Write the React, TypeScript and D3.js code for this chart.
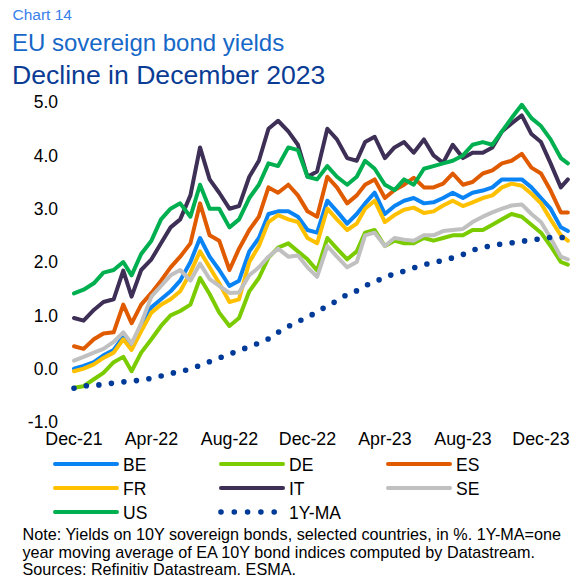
import React from 'react';
import * as d3 from 'd3';

const dates = [
  '2021-12-01','2021-12-16','2022-01-01','2022-01-16','2022-02-01','2022-02-16','2022-03-01','2022-03-16',
  '2022-04-01','2022-04-16','2022-05-01','2022-05-16','2022-06-01','2022-06-16','2022-07-01','2022-07-16',
  '2022-08-01','2022-08-16','2022-09-01','2022-09-16','2022-10-01','2022-10-16','2022-11-01','2022-11-16',
  '2022-12-01','2022-12-16','2023-01-01','2023-01-16','2023-02-01','2023-02-16','2023-03-01','2023-03-16',
  '2023-04-01','2023-04-16','2023-05-01','2023-05-16','2023-06-01','2023-06-16','2023-07-01','2023-07-16',
  '2023-08-01','2023-08-16','2023-09-01','2023-09-16','2023-10-01','2023-10-16','2023-11-01','2023-11-16',
  '2023-12-01','2023-12-16','2024-01-01','2024-01-12'
];

const BE = [0.0,0.05,0.12,0.25,0.35,0.6,0.4,0.75,1.15,1.3,1.45,1.65,2.0,2.45,2.1,1.85,1.55,1.65,2.2,2.45,2.9,2.95,2.95,2.85,2.6,2.55,3.15,2.95,2.72,2.9,3.1,3.3,2.9,3.05,3.15,3.2,3.1,3.12,3.2,3.3,3.2,3.3,3.34,3.4,3.55,3.55,3.55,3.4,3.2,3.0,2.65,2.58];
const DE = [-0.36,-0.33,-0.2,-0.08,0.12,0.22,-0.05,0.3,0.55,0.8,1.0,1.08,1.2,1.7,1.4,1.05,0.8,0.95,1.45,1.7,2.08,2.27,2.35,2.2,2.05,1.84,2.45,2.25,2.05,2.2,2.55,2.6,2.3,2.4,2.35,2.35,2.45,2.4,2.45,2.5,2.5,2.6,2.6,2.7,2.8,2.9,2.85,2.7,2.55,2.3,2.0,1.95];
const ES = [0.42,0.37,0.55,0.66,0.68,1.2,0.85,1.2,1.42,1.65,1.9,2.1,2.35,3.1,2.5,2.4,1.85,2.25,2.6,2.85,3.4,3.3,3.45,3.25,2.95,2.85,3.6,3.4,3.1,3.25,3.45,3.55,3.2,3.35,3.45,3.58,3.4,3.4,3.47,3.66,3.45,3.5,3.66,3.72,3.85,3.9,4.03,3.77,3.66,3.34,2.93,2.93];
const FR = [-0.05,0.0,0.08,0.2,0.3,0.55,0.35,0.7,1.05,1.2,1.3,1.45,1.8,2.2,1.9,1.6,1.25,1.3,2.0,2.3,2.75,2.88,2.8,2.75,2.45,2.35,3.0,2.8,2.6,2.72,3.0,3.15,2.75,2.88,2.98,3.02,2.92,2.95,3.06,3.15,3.05,3.12,3.2,3.25,3.4,3.47,3.43,3.28,3.1,2.8,2.5,2.4];
const IT = [0.95,0.9,1.1,1.25,1.3,1.84,1.35,1.85,2.05,2.35,2.65,2.8,3.25,4.15,3.55,3.3,3.0,3.05,3.6,3.9,4.5,4.65,4.45,4.2,3.6,3.7,4.5,4.3,3.95,3.9,4.25,4.35,3.95,4.15,4.25,4.05,4.3,4.0,3.86,4.2,3.95,4.05,4.05,4.15,4.45,4.6,4.75,4.4,4.25,3.85,3.4,3.55];
const SE = [0.15,0.22,0.3,0.37,0.5,0.68,0.47,0.85,1.35,1.55,1.75,1.85,1.65,1.97,1.68,1.55,1.42,1.43,1.75,1.9,2.1,2.25,2.1,2.12,1.9,1.72,2.3,2.1,1.9,2.0,2.5,2.55,2.3,2.45,2.42,2.4,2.5,2.5,2.58,2.6,2.62,2.75,2.85,2.93,3.0,3.06,3.08,2.9,2.75,2.45,2.1,2.05];
const US = [1.41,1.48,1.6,1.8,1.85,2.0,1.75,2.15,2.4,2.8,3.0,3.1,2.85,3.45,3.0,3.0,2.65,2.8,3.2,3.45,3.85,3.8,4.15,4.1,3.6,3.55,3.8,3.6,3.45,3.6,3.9,3.75,3.45,3.35,3.55,3.45,3.75,3.8,3.85,3.9,4.0,4.2,4.25,4.2,4.45,4.7,4.95,4.7,4.55,4.3,3.95,3.85];
const MA = [-0.37,-0.33,-0.31,-0.3,-0.27,-0.25,-0.23,-0.22,-0.18,-0.14,-0.09,-0.06,0.0,0.06,0.13,0.2,0.27,0.34,0.41,0.48,0.56,0.68,0.79,0.88,0.97,1.06,1.18,1.27,1.39,1.46,1.55,1.63,1.71,1.78,1.83,1.89,1.95,1.99,2.03,2.08,2.14,2.22,2.27,2.31,2.34,2.36,2.39,2.41,2.44,2.46,2.46,2.46];

const yTicks = [5, 4, 3, 2, 1, 0, -1];
const xTickDates = ['2021-12-01','2022-04-01','2022-08-01','2022-12-01','2023-04-01','2023-08-01','2023-12-01'];
const xTickLabels = ['Dec-21','Apr-22','Aug-22','Dec-22','Apr-23','Aug-23','Dec-23'];

const seriesNames = ['BE','DE','ES','FR','IT','SE','US'];
const seriesValues = [BE, DE, ES, FR, IT, SE, US];
const seriesColors = ['#0A84F5','#7ACC00','#E05A00','#FFC000','#3D2F55','#C0C0C0','#00B050'];
const maColor = '#003A99';

const noteLines = [
  'Note: Yields on 10Y sovereign bonds, selected countries, in %. 1Y-MA=one',
  'year moving average of EA 10Y bond indices computed by Datastream.',
  'Sources: Refinitiv Datastream, ESMA.'
];

const FONT = '"Liberation Sans", Arial, sans-serif';

export default function App() {
  const parse = d3.utcParse('%Y-%m-%d');
  const dts = dates.map(d => parse(d) as Date);
  const x = d3.scaleUtc()
    .domain([parse('2021-12-01') as Date, parse('2023-12-01') as Date])
    .range([74, 541]);
  const y = d3.scaleLinear().domain([-1, 5]).range([421.9, 102.1]);

  const line = d3.line<number>()
    .x((_, i) => x(dts[i]))
    .y(v => y(v));
  const maLine = d3.line<number>()
    .x((_, i) => x(dts[i]))
    .y(v => y(v))
    .curve(d3.curveMonotoneX);

  const legendItems = [
    { name: 'BE', color: seriesColors[0], col: 0, row: 0 },
    { name: 'DE', color: seriesColors[1], col: 1, row: 0 },
    { name: 'ES', color: seriesColors[2], col: 2, row: 0 },
    { name: 'FR', color: seriesColors[3], col: 0, row: 1 },
    { name: 'IT', color: seriesColors[4], col: 1, row: 1 },
    { name: 'SE', color: seriesColors[5], col: 2, row: 1 },
    { name: 'US', color: seriesColors[6], col: 0, row: 2 },
  ];
  const legCols = [55, 221, 388];
  const legRows = [464, 488, 512];

  return (
    <svg width={570} height={575} style={{ position: 'absolute', left: 0, top: 0, background: '#fff' }} fontFamily={FONT}>
      <text x={12.5} y={20} fontSize={15.5} fill="#3A80EA">Chart 14</text>
      <text x={12} y={51} fontSize={24} fill="#1668C8">EU sovereign bond yields</text>
      <text x={12} y={84} fontSize={26.6} fill="#0A3C95">Decline in December 2023</text>

      {yTicks.map(t => (
        <text key={t} x={58} y={y(t)} dy="0.36em" textAnchor="end" fontSize={17.5} fill="#000">
          {t.toFixed(1)}
        </text>
      ))}
      {xTickDates.map((d, i) => (
        <text key={d} x={x(parse(d) as Date)} y={445} textAnchor="middle" fontSize={17.8} fill="#000">
          {xTickLabels[i]}
        </text>
      ))}

      {seriesValues.map((vals, i) => (
        <path key={seriesNames[i]} d={line(vals) || ''} fill="none" stroke={seriesColors[i]}
          strokeWidth={4} strokeLinejoin="round" strokeLinecap="round" />
      ))}
      <path d={maLine(MA) || ''} fill="none" stroke={maColor} strokeWidth={5.6}
        strokeLinecap="round" strokeDasharray="0 12.6" />

      {legendItems.map(it => (
        <g key={it.name}>
          <line x1={legCols[it.col]} x2={legCols[it.col] + 62} y1={legRows[it.row]} y2={legRows[it.row]}
            stroke={it.color} strokeWidth={4} strokeLinecap="round" />
          <text x={legCols[it.col] + 68} y={legRows[it.row] + 6.5} fontSize={17.5} fill="#000">{it.name}</text>
        </g>
      ))}
      <line x1={legCols[1]} x2={legCols[1] + 54} y1={legRows[2]} y2={legRows[2]} stroke={maColor}
        strokeWidth={5.6} strokeLinecap="round" strokeDasharray="0 13.3" />
      <text x={legCols[1] + 68} y={legRows[2] + 6.5} fontSize={17.5} fill="#000">1Y-MA</text>

      {noteLines.map((l, i) => (
        <text key={i} x={22.5} y={540 + i * 17.5} fontSize={16.2} fill="#000">{l}</text>
      ))}
    </svg>
  );
}
